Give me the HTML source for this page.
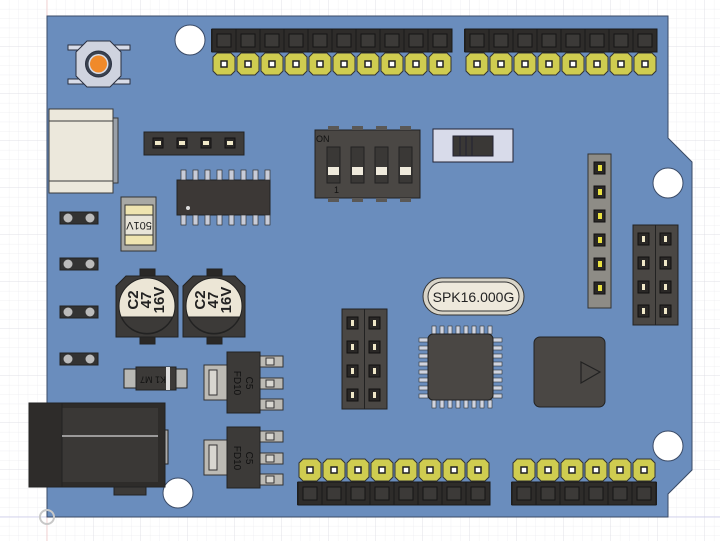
<!DOCTYPE html>
<html><head><meta charset="utf-8"><style>
html,body{margin:0;padding:0;background:#fff;}
svg{display:block;}
text{font-family:"Liberation Sans",sans-serif;}
</style></head><body>
<svg id="s" width="720" height="541" viewBox="0 0 720 541" xmlns="http://www.w3.org/2000/svg">
<defs>
<pattern id="g" width="9.4" height="9.4" patternUnits="userSpaceOnUse" x="0" y="0">
<path d="M9.4 0V9.4H0" fill="none" stroke="#ececf0" stroke-width="0.7"/>
</pattern>
<pattern id="G" width="47" height="47" patternUnits="userSpaceOnUse" x="0" y="0">
<path d="M47 0V47H0" fill="none" stroke="#dcdce4" stroke-width="0.8"/>
</pattern>
</defs>
<rect width="720" height="541" fill="#fff"/>
<rect width="720" height="541" fill="url(#g)"/>
<rect width="720" height="541" fill="url(#G)"/>
<line x1="47" y1="0" x2="47" y2="541" stroke="#f0c8c8" stroke-width="0.8"/>
<line x1="0" y1="517" x2="720" y2="517" stroke="#c8c8e8" stroke-width="0.8"/>
<path d="M47 16H668V138L692 162V470L668 494V517H47Z" fill="#6a8dbd" stroke="#3a4a66" stroke-width="1"/>
<circle cx="47" cy="517" r="7" fill="none" stroke="#c8c8c8" stroke-width="2"/>
<g fill="#fff" stroke="#3a4a66" stroke-width="1">
<circle cx="190" cy="40" r="15"/><circle cx="178" cy="493" r="15"/>
<circle cx="668" cy="183" r="15"/><circle cx="668" cy="446" r="15"/>
</g>
<rect x="211" y="29" width="241" height="23" fill="#222"/>
<rect x="464" y="29" width="193" height="23" fill="#222"/>
<rect x="297" y="482" width="193" height="23" fill="#222"/>
<rect x="511" y="482" width="146" height="23" fill="#222"/>
<g id="dyn"></g>

<!-- button -->
<g stroke="#2a3040" stroke-width="1">
<rect x="68" y="45" width="62" height="5" fill="#d8dce8"/>
<rect x="68" y="79" width="62" height="5" fill="#d8dce8"/>
<path d="M87 41H110L121 52V76L110 87H87L76 76V52Z" fill="#cfd3df"/>
<circle cx="98.5" cy="64" r="13" fill="#3a4250"/>
<circle cx="98.5" cy="64" r="10" fill="#d8dce8" stroke="none"/>
<circle cx="98.5" cy="64" r="8.5" fill="#f08a2a" stroke="none"/>
</g>
<!-- USB -->
<g stroke="#3a3a3a" stroke-width="1">
<rect x="113" y="118" width="5" height="65" fill="#9aa0a8"/>
<rect x="49" y="109" width="64" height="84" fill="#ece8dc"/>
<line x1="49" y1="121" x2="113" y2="121"/><line x1="49" y1="181" x2="113" y2="181"/>
</g>
<!-- 4-pin header -->
<rect x="144" y="132" width="100" height="23" fill="#3e3c3a" stroke="#222"/>
<!-- SOIC -->
<rect x="177" y="180" width="93" height="35" fill="#3c3836" stroke="#222"/>
<circle cx="188" cy="208" r="2" fill="#ddd"/>
<!-- fuse -->
<g stroke="#333">
<rect x="121" y="197" width="35" height="54" fill="#a8a8a4"/>
<rect x="125" y="205" width="28" height="10" fill="#efe4b0"/>
<rect x="125" y="235" width="28" height="10" fill="#efe4b0"/>
<rect x="125" y="215" width="28" height="20" fill="#e8e4d8"/>
</g>
<text x="139" y="225" font-size="11" text-anchor="middle" dominant-baseline="middle" transform="rotate(180 139 225)" fill="#222">501V</text>
<!-- caps -->
<g stroke="#222">
<rect x="140" y="269" width="15" height="9" fill="#2a2826"/>
<rect x="140" y="335" width="15" height="9" fill="#2a2826"/>
<rect x="207" y="269" width="15" height="9" fill="#2a2826"/>
<rect x="207" y="335" width="15" height="9" fill="#2a2826"/>
<path d="M126 276H168L178 286V337H116V286Z" fill="#3c3a38"/>
<path d="M193 276H235L245 286V337H183V286Z" fill="#3c3a38"/>
<circle cx="147" cy="306" r="28" fill="#ece6d6"/>
<circle cx="214" cy="306" r="28" fill="#ece6d6"/>
<path d="M121.5 317A28 28 0 0 0 172.5 317Z" fill="#3c3a38"/>
<path d="M188.5 317A28 28 0 0 0 239.5 317Z" fill="#3c3a38"/>
</g>
<g font-size="15" font-weight="bold" fill="#222" text-anchor="middle" dominant-baseline="middle">
<text transform="translate(147 300) rotate(-90)" x="0" y="-13">C2</text>
<text transform="translate(147 300) rotate(-90)" x="0" y="0">47</text>
<text transform="translate(147 300) rotate(-90)" x="0" y="13">16V</text>
<text transform="translate(214 300) rotate(-90)" x="0" y="-13">C2</text>
<text transform="translate(214 300) rotate(-90)" x="0" y="0">47</text>
<text transform="translate(214 300) rotate(-90)" x="0" y="13">16V</text>
</g>
<!-- diode -->
<g stroke="#222">
<rect x="124" y="369" width="63" height="19" fill="#b8b8b4"/>
<rect x="136" y="367" width="40" height="23" fill="#3c3a38"/>
<rect x="166" y="367" width="4" height="23" fill="#ddd" stroke="none"/>
</g>
<text x="153" y="379" font-size="9" fill="#111" text-anchor="middle" dominant-baseline="middle" transform="rotate(180 153 379)">K1 M7</text>
<!-- DC jack -->
<g stroke="#222">
<rect x="114" y="486" width="32" height="9" fill="#3c3a38"/>
<rect x="158" y="430" width="10" height="34" fill="#aaa"/>
<rect x="29" y="403" width="136" height="84" fill="#2e2c2a"/>
<rect x="62" y="408" width="96" height="74" fill="#3a3836" stroke="none"/>
<line x1="29" y1="403" x2="29" y2="487"/><line x1="62" y1="403" x2="62" y2="487"/>
<line x1="62" y1="436" x2="158" y2="436" stroke="#bbb" stroke-width="1.5"/>
</g>
<!-- DIP -->
<rect x="315" y="130" width="105" height="68" fill="#4a4744" stroke="#222"/>
<text x="316" y="142" font-size="9" fill="#111">ON</text>
<text x="334" y="193" font-size="9" fill="#111">1</text>
<!-- slide switch -->
<g stroke="#223">
<rect x="433" y="129" width="80" height="33" fill="#d8dbea"/>
<rect x="453" y="136" width="40" height="20" fill="#3a3836"/>
<line x1="460" y1="136" x2="460" y2="156"/><line x1="466" y1="136" x2="466" y2="156"/><line x1="472" y1="136" x2="472" y2="156"/>
</g>
<!-- vertical header -->
<rect x="588" y="154" width="23" height="154" fill="#8e8c86" stroke="#333"/>
<!-- right 2x4 -->
<rect x="633" y="225" width="45" height="100" fill="#4a4744" stroke="#222"/>
<line x1="655.5" y1="225" x2="655.5" y2="325" stroke="#222"/>
<!-- center 2x4 -->
<rect x="342" y="309" width="45" height="100" fill="#4a4744" stroke="#222"/>
<line x1="364.5" y1="309" x2="364.5" y2="409" stroke="#222"/>
<!-- crystal -->
<rect x="423" y="278" width="101" height="37" rx="18.5" fill="#d8d4c8" stroke="#333"/>
<rect x="428" y="282" width="91" height="29" rx="14.5" fill="#eee9dc" stroke="#333"/>
<text x="473.5" y="302" font-size="14" text-anchor="middle" fill="#222">SPK16.000G</text>
<!-- square chip -->
<rect x="534" y="337" width="71" height="70" rx="6" fill="#4a4744" stroke="#222"/>
<path d="M581 362L600 372L581 383Z" fill="none" stroke="#222" stroke-width="1.2"/>
</svg>
<script>
var d=document.getElementById('dyn'),h='';
function female(x,y){return '<rect x="'+x+'" y="'+y+'" width="24" height="23" fill="#2e2c2a" stroke="#1a1a1a"/><rect x="'+(x+5)+'" y="'+(y+5)+'" width="14" height="13" fill="#3c3a38" stroke="#151515"/>';}
function yel(x,y){return '<path d="M'+(x+5)+' '+y+'H'+(x+19)+'L'+(x+23)+' '+(y+4)+'V'+(y+18)+'L'+(x+19)+' '+(y+22)+'H'+(x+5)+'L'+(x+1)+' '+(y+18)+'V'+(y+4)+'Z" fill="#cfcc50" stroke="#333"/><rect x="'+(x+9)+'" y="'+(y+8)+'" width="6" height="6" fill="#fff" stroke="#222" stroke-width="1.5"/>';}
for(var i=0;i<10;i++){h+=female(212+i*24,29)+yel(212+i*24,53);}
for(i=0;i<8;i++){h+=female(465+i*24,29)+yel(465+i*24,53);}
for(i=0;i<8;i++){h+=yel(298+i*24,459)+female(298+i*24,482);}
for(i=0;i<6;i++){h+=yel(512+i*24,459)+female(512+i*24,482);}
[212,258,306,353].forEach(function(y){h+='<rect x="60" y="'+y+'" width="38" height="12" fill="#333" stroke="#222"/><circle cx="68" cy="'+(y+6)+'" r="4.5" fill="#bbb"/><circle cx="90" cy="'+(y+6)+'" r="4.5" fill="#bbb"/>';});
d.innerHTML=h;
var s=document.getElementById('s');
function add(str){var g=document.createElementNS('http://www.w3.org/2000/svg','g');g.innerHTML=str;s.appendChild(g);}
var a='';
for(i=0;i<4;i++){a+='<rect x="'+(153+i*24)+'" y="138" width="10" height="10" fill="#2a2826" stroke="#111"/><rect x="'+(155+i*24)+'" y="141" width="6" height="4" fill="#f0e8c8"/>';}
for(i=0;i<8;i++){var px=181+i*12;a+='<rect x="'+px+'" y="170" width="5" height="10" fill="#c8ccd8" stroke="#333" stroke-width=".7"/><rect x="'+px+'" y="215" width="5" height="10" fill="#c8ccd8" stroke="#333" stroke-width=".7"/>';}
for(i=0;i<4;i++){var dx=327+i*24;a+='<rect x="'+dx+'" y="147" width="13" height="36" fill="#3a3836" stroke="#222"/><rect x="'+(dx+1)+'" y="167" width="11" height="8" fill="#efeadc"/><rect x="'+(dx+1)+'" y="126" width="11" height="4" fill="#5a5856"/><rect x="'+(dx+1)+'" y="198" width="11" height="4" fill="#5a5856"/>';}
for(i=0;i<6;i++){var yy=162+i*24;a+='<rect x="594" y="'+yy+'" width="11" height="12" fill="#2a2826" stroke="#111"/><rect x="598" y="'+(yy+3)+'" width="4" height="6" fill="#e8e040"/>';}
for(i=0;i<4;i++){[638,660].forEach(function(x){var yy=233+i*24;a+='<rect x="'+x+'" y="'+yy+'" width="11" height="12" fill="#2a2826" stroke="#111"/><rect x="'+(x+4)+'" y="'+(yy+3)+'" width="3" height="6" fill="#f0e8c8"/>';});
[347,369].forEach(function(x){var yy=317+i*24;a+='<rect x="'+x+'" y="'+yy+'" width="11" height="12" fill="#2a2826" stroke="#111"/><rect x="'+(x+4)+'" y="'+(yy+3)+'" width="3" height="6" fill="#f0e8c8"/>';});}
[352,427].forEach(function(y){a+='<rect x="204" y="'+(y+13)+'" width="24" height="35" fill="#bcbab4" stroke="#333"/><rect x="209" y="'+(y+18)+'" width="8" height="25" fill="#d8d6d0" stroke="#333"/>';
[4,26,47].forEach(function(o){a+='<rect x="260" y="'+(y+o)+'" width="23" height="11" fill="#bcbab4" stroke="#333"/><rect x="266" y="'+(y+o+2)+'" width="8" height="7" fill="#d8d6d0" stroke="#333"/>';});
a+='<rect x="227" y="'+y+'" width="33" height="61" fill="#3c3a38" stroke="#222"/>';});
for(i=0;i<8;i++){var q=432+i*8;a+='<rect x="'+q+'" y="326" width="4" height="8" fill="#d0d4e0" stroke="#333" stroke-width=".6"/><rect x="'+q+'" y="400" width="4" height="8" fill="#d0d4e0" stroke="#333" stroke-width=".6"/>';
var r=338+i*8;a+='<rect x="419" y="'+r+'" width="9" height="4" fill="#d0d4e0" stroke="#333" stroke-width=".6"/><rect x="493" y="'+r+'" width="9" height="4" fill="#d0d4e0" stroke="#333" stroke-width=".6"/>';}
a+='<rect x="428" y="334" width="65" height="66" rx="5" fill="#4a4744" stroke="#222"/>';
a+='<text transform="translate(243 383) rotate(90)" font-size="10" text-anchor="middle" fill="#111" y="-3">C5</text><text transform="translate(243 383) rotate(90)" font-size="10" text-anchor="middle" fill="#111" y="9">FD10</text><text transform="translate(243 458) rotate(90)" font-size="10" text-anchor="middle" fill="#111" y="-3">C5</text><text transform="translate(243 458) rotate(90)" font-size="10" text-anchor="middle" fill="#111" y="9">FD10</text>';
add(a);
</script>
</body></html>
